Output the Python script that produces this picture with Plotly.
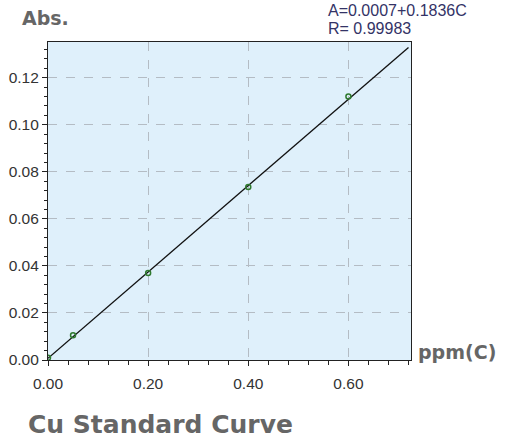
import plotly.graph_objects as go

conc = [0.0, 0.05, 0.20, 0.40, 0.60]
absorb = [0.0010, 0.0105, 0.0370, 0.0735, 0.1120]
intercept = 0.0007
slope = 0.1836
line_x = [0.0, 0.72]
line_y = [intercept + slope * x for x in line_x]
x_ticks = [0, 0.2, 0.4, 0.6]
x_labels = ["0.00", "0.20", "0.40", "0.60"]
y_ticks = [0, 0.02, 0.04, 0.06, 0.08, 0.10, 0.12]
y_labels = ["0.00", "0.02", "0.04", "0.06", "0.08", "0.10", "0.12"]

fig = go.Figure()
fig.add_trace(go.Scatter(x=line_x, y=line_y, mode="lines",
                         line=dict(color="#111111", width=1.3), hoverinfo="skip"))
fig.add_trace(go.Scatter(x=conc, y=absorb, mode="markers",
                         marker=dict(symbol="circle-open", size=5, color="#2f7a2f",
                                     line=dict(width=1.5, color="#2f7a2f"))))

W, H = 512, 448
L, R, T, B = 48, 411, 42, 360
def px(X): return (X - L) / (R - L)
def py(Y): return (B - Y) / (B - T)

tickfont = dict(size=15.5, color="#333333", family="Liberation Sans, Arial")
fig.update_layout(
    width=W, height=H, showlegend=False,
    margin=dict(l=L, r=W - R, t=T, b=H - B, autoexpand=False),
    paper_bgcolor="white", plot_bgcolor="#dff0fb",
    font=dict(family="Liberation Sans, Arial", size=12, color="#222222"),
)
fig.update_xaxes(range=[0, 0.725], tickvals=x_ticks, ticktext=x_labels, automargin=False,
                 ticks="outside", ticklen=5, tickcolor="#222", showline=True, linecolor="#222", linewidth=1.2,
                 mirror=True, showgrid=True, gridcolor="#b4bcc4", griddash="dash", gridwidth=1,
                 zeroline=False, tickfont=tickfont, ticklabelstandoff=4,
                 minor=dict(dtick=0.04, tick0=0, ticks="outside", ticklen=4, tickcolor="#222", showgrid=False))
fig.update_yaxes(range=[0, 0.1352], tickvals=y_ticks, ticktext=y_labels, automargin=False,
                 ticks="outside", ticklen=5, tickcolor="#222", showline=True, linecolor="#222", linewidth=1.2,
                 mirror=True, showgrid=True, gridcolor="#b4bcc4", griddash="dash", gridwidth=1,
                 zeroline=False, tickfont=tickfont, ticklabelstandoff=0,
                 minor=dict(dtick=0.004, tick0=0, ticks="outside", ticklen=3, tickcolor="#222", showgrid=False))

ann = [
    dict(text="<b>Abs.</b>", x=px(21), y=py(18), xanchor="left", yanchor="middle",
         font=dict(size=19, color="#666666", family="DejaVu Sans, Arial")),
    dict(text="A=0.0007+0.1836C", x=px(327), y=py(11), xanchor="left", yanchor="middle",
         font=dict(size=16, color="#333366", family="Liberation Sans, Arial")),
    dict(text="R= 0.99983", x=px(327), y=py(29), xanchor="left", yanchor="middle",
         font=dict(size=16, color="#333366", family="Liberation Sans, Arial")),
    dict(text="<b>ppm(C)</b>", x=px(417), y=py(352), xanchor="left", yanchor="middle",
         font=dict(size=19, color="#666666", family="DejaVu Sans, Arial")),
    dict(text="<b>Cu Standard Curve</b>", x=px(27), y=py(424), xanchor="left", yanchor="middle",
         font=dict(size=25, color="#666666", family="DejaVu Sans, Arial")),
]
for a in ann:
    a.update(xref="paper", yref="paper", showarrow=False, borderpad=0)
fig.update_layout(annotations=ann)

fig.write_html("out.html")
